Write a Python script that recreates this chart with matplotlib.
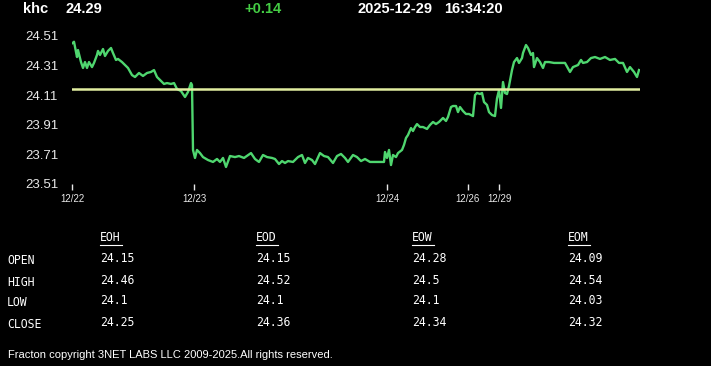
import matplotlib
matplotlib.use("Agg")
from matplotlib import pyplot as plt

W, H = 711, 366

# quote header
symbol = "khc"
last = "24.29"
change = "+0.14"
stamp_date = "2025-12-29"
stamp_time = "16:34:20"

# intraday series: bar number and price
bars = [0, 1, 2, 5, 6, 9, 11, 13, 15, 17, 20, 22, 25, 26, 28, 31, 33, 36, 39, 41,
        44, 46, 50, 53, 56, 60, 63, 67, 71, 75, 79, 82, 85, 89, 92, 95, 99, 102, 105, 109,
        113, 116, 119, 120, 121, 123, 125, 128, 131, 136, 141, 145, 148, 151, 154, 158, 163, 167, 172, 179,
        183, 187, 191, 195, 200, 203, 207, 210, 213, 216, 221, 226, 230, 233, 236, 240, 243, 248, 252, 256,
        261, 265, 269, 273, 276, 281, 285, 289, 293, 298, 303, 308, 312, 313, 315, 317, 319, 321, 324, 326,
        330, 332, 334, 336, 339, 341, 343, 345, 348, 351, 355, 358, 361, 364, 367, 371, 374, 376, 379, 381,
        384, 386, 388, 391, 394, 397, 401, 403, 405, 408, 410, 412, 415, 417, 420, 423, 425, 427, 429, 431,
        433, 435, 437, 440, 442, 445, 447, 450, 451, 454, 456, 459, 461, 462, 465, 468, 471, 473, 477, 482,
        488, 493, 498, 501, 506, 509, 511, 515, 519, 523, 528, 533, 538, 543, 547, 551, 555, 558, 562, 565,
        567]
prices = [24.46, 24.465, 24.471, 24.368, 24.415, 24.334, 24.294, 24.334, 24.294, 24.334,
          24.300, 24.328, 24.382, 24.409, 24.382, 24.422, 24.375, 24.409, 24.429, 24.395,
          24.348, 24.355, 24.334, 24.314, 24.294, 24.246, 24.233, 24.260, 24.240, 24.260,
          24.267, 24.280, 24.233, 24.206, 24.186, 24.192, 24.186, 24.192, 24.152, 24.138,
          24.098, 24.132, 24.192, 24.179, 23.740, 23.686, 23.740, 23.719, 23.692, 23.672,
          23.659, 23.679, 23.659, 23.686, 23.625, 23.699, 23.692, 23.699, 23.686, 23.719,
          23.679, 23.659, 23.706, 23.692, 23.686, 23.679, 23.645, 23.665, 23.652, 23.665,
          23.659, 23.692, 23.706, 23.652, 23.686, 23.672, 23.645, 23.719, 23.699, 23.692,
          23.652, 23.699, 23.713, 23.686, 23.659, 23.706, 23.692, 23.665, 23.679, 23.659,
          23.659, 23.659, 23.659, 23.726, 23.686, 23.740, 23.638, 23.706, 23.692, 23.719,
          23.740, 23.774, 23.821, 23.841, 23.888, 23.868, 23.895, 23.915, 23.895, 23.895,
          23.882, 23.909, 23.929, 23.915, 23.929, 23.956, 23.936, 23.963, 24.030, 24.037,
          24.037, 23.996, 24.030, 24.003, 23.983, 23.983, 23.969, 24.111, 24.125, 24.118,
          24.125, 24.064, 24.044, 23.996, 23.976, 23.969, 24.088, 24.145, 24.024, 24.199,
          24.125, 24.118, 24.172, 24.280, 24.334, 24.361, 24.328, 24.361, 24.395, 24.449,
          24.429, 24.382, 24.395, 24.300, 24.361, 24.334, 24.294, 24.334, 24.334, 24.328,
          24.328, 24.328, 24.267, 24.300, 24.314, 24.348, 24.328, 24.334, 24.361, 24.368,
          24.355, 24.368, 24.348, 24.355, 24.328, 24.328, 24.267, 24.300, 24.267, 24.233,
          24.280]
open_price = 24.15

yticks = [23.51, 23.71, 23.91, 24.11, 24.31, 24.51]
day_bars = [0, 122, 315, 396, 427]
day_labels = ["12/22", "12/23", "12/24", "12/26", "12/29"]

# summary table
row_names = ["OPEN", "HIGH", "LOW", "CLOSE"]
col_names = ["EOH", "EOD", "EOW", "EOM"]
eoh = ["24.15", "24.46", "24.1", "24.25"]
eod = ["24.15", "24.52", "24.1", "24.36"]
eow = ["24.28", "24.5", "24.1", "24.34"]
eom = ["24.09", "24.54", "24.03", "24.32"]
footer = "Fracton copyright 3NET LABS LLC 2009-2025.All rights reserved."


def fx(x):
    return x / W


def fy(y):
    return 1 - y / H


fig = plt.figure(figsize=(W / 100, H / 100), dpi=100, facecolor="black")

ax = fig.add_axes([fx(72), fy(184), fx(640) - fx(72), (184 - 36) / H])
ax.set_facecolor("black")
ax.plot(bars, prices, color="#4fd66f", lw=1.7, solid_joinstyle="round")
ax.axhline(open_price, color="#e2eea0", lw=1.8)
ax.set_xlim(0, 568)
ax.set_ylim(23.51, 24.51)
for s in ax.spines.values():
    s.set_visible(False)
ax.set_yticks(yticks)
ax.set_yticklabels(["%.2f" % v for v in yticks])
ax.tick_params(axis="y", length=0, pad=10, colors="#e8e8e8", labelsize=9.5)
ax.set_xticks(day_bars)
ax.set_xticklabels(day_labels)
ax.tick_params(axis="x", length=4, width=1, pad=3, colors="#e8e8e8", labelsize=7, direction="out")
for t in ax.get_yticklabels() + ax.get_xticklabels():
    t.set_family("Liberation Sans")

hdr = dict(family="Liberation Sans", fontsize=10.5, fontweight="bold", va="center")
fig.text(fx(23), fy(9), symbol, color="white", **hdr)
fig.text(fx(65), fy(9), last, color="white", **hdr)
fig.text(fx(244), fy(9), change, color="#44cc44", **hdr)
fig.text(fx(357), fy(9), stamp_date, color="white", **hdr)
fig.text(fx(444), fy(9), stamp_time, color="white", **hdr)

mono = dict(family="DejaVu Sans Mono", fontsize=8.3, color="white", va="center")
col_x = [100, 256, 412, 568]
row_y = [259, 281, 302, 323]
for name, y in zip(row_names, row_y):
    fig.text(fx(7), fy(y + 1), name, **mono)
for cx, head, vals in zip(col_x, col_names, [eoh, eod, eow, eom]):
    fig.text(fx(cx), fy(238), head, **mono)
    fig.add_artist(plt.Line2D([fx(cx), fx(cx + 22)], [fy(244.5), fy(244.5)],
                              color="white", lw=0.8))
    for v, y in zip(vals, row_y):
        fig.text(fx(cx), fy(y - 1), v, **mono)

fig.text(fx(8), fy(355), footer, family="Liberation Sans", fontsize=8,
         color="white", va="center")

fig.savefig("out.png", dpi=100, facecolor="black")
